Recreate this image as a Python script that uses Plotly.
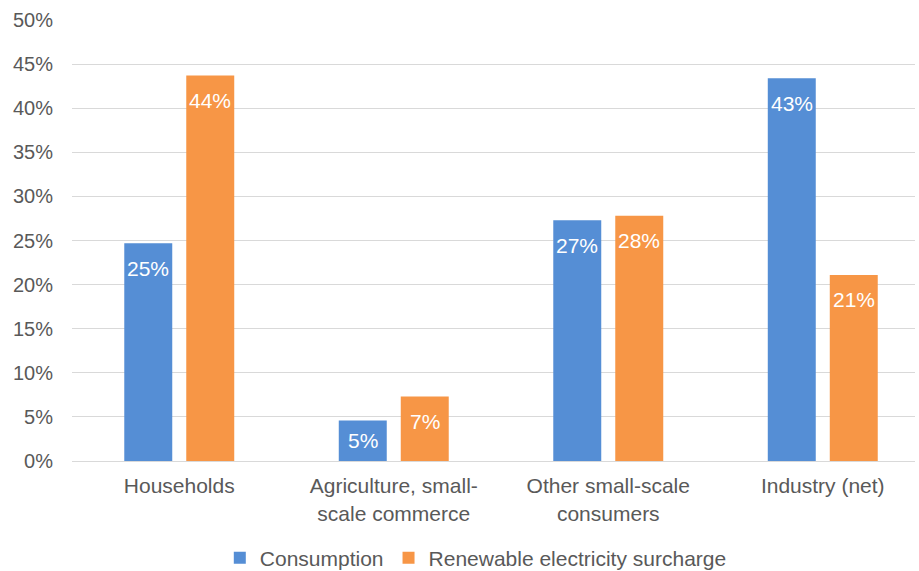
import plotly.graph_objects as go

categories = ["Households", "Agriculture, small-<br>scale commerce", "Other small-scale<br>consumers", "Industry (net)"]
consumption = [24.7, 4.6, 27.3, 43.4]
surcharge = [43.7, 7.3, 27.8, 21.1]
series_names = ["Consumption", "Renewable electricity surcharge"]
series_colors = ["#558ED5", "#F79646"]
tick_vals = [0, 5, 10, 15, 20, 25, 30, 35, 40, 45, 50]
tick_text = [f"{v}%" for v in tick_vals]

font = "Liberation Sans, Arial, sans-serif"
plot_h = 571 - 20 - 110
y_max = 50

fig = go.Figure()
for name, vals, color in zip(series_names, [consumption, surcharge], series_colors):
    fig.add_trace(go.Bar(
        x=categories, y=vals, name=name, marker=dict(color=color, line=dict(width=0)),
        hoverinfo="x+y"))

# data labels inside bar ends
for vals, shift in [(consumption, -31), (surcharge, 31)]:
    for c, v in zip(categories, vals):
        bar_px = v * plot_h / y_max
        fig.add_annotation(x=c, y=v, text=f"{v:.0f}%", showarrow=False, xshift=shift,
                           yshift=-min(25, bar_px / 2), yanchor="middle", xanchor="center",
                           font=dict(color="white", size=21, family=font))

fig.update_layout(
    width=919, height=571, margin=dict(l=72, r=4, t=20, b=110, autoexpand=False),
    paper_bgcolor="white", plot_bgcolor="white",
    barmode="group", bargap=0.422, bargroupgap=0.226,
    font=dict(family=font, size=21, color="#595959"),
    yaxis=dict(range=[0, y_max], tickmode="array", tickvals=tick_vals, ticktext=tick_text, showgrid=True,
               gridcolor="#d9d9d9", gridwidth=1, zeroline=True, zerolinecolor="#d9d9d9",
               zerolinewidth=1, ticklabelstandoff=18, automargin=False,
               tickfont=dict(size=20, color="#595959")),
    xaxis=dict(range=[-0.5, 3.43], showline=True, linecolor="#d9d9d9",
               tickfont=dict(size=21, color="#595959"),
               ticks="", ticklabelstandoff=6, automargin=False),
    legend=dict(orientation="h", x=0.479, xanchor="center", y=-0.22, yanchor="middle",
                font=dict(size=21, color="#595959"), traceorder="normal"),
    showlegend=True,
)
fig.write_html("out.html", config={"displayModeBar": False},
               post_script="document.body.style.margin='0';document.body.style.overflow='hidden';")
